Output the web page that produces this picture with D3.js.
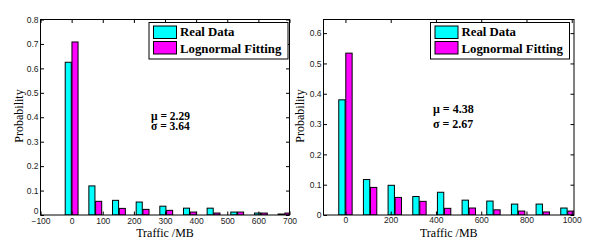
<!DOCTYPE html>
<html>
<head>
<meta charset="utf-8">
<script src="https://cdn.jsdelivr.net/npm/d3@7"></script>
<style>
  body { margin: 0; background: #fff; }
  svg { display: block; }
  .serif { font-family: 'Liberation Serif', 'Times New Roman', 'DejaVu Serif', serif; }
  .tick text { font-family: 'Liberation Sans', Arial, sans-serif; }
</style>
</head>
<body>
<svg id="fig" width="605" height="243"></svg>
<script>
// bin centres (MB)
const leftBins = [0, 76, 152, 228, 304, 380, 456, 532, 608, 684];
const leftReal = [0.625, 0.119, 0.060, 0.053, 0.036, 0.028, 0.028, 0.012, 0.008, 0.004];
const leftFit  = [0.708, 0.056, 0.027, 0.023, 0.019, 0.012, 0.008, 0.012, 0.008, 0.008];

const rightBins = [0, 109, 218, 327, 436, 545, 654, 763, 872, 981];
const rightReal = [0.380, 0.117, 0.098, 0.061, 0.075, 0.049, 0.046, 0.036, 0.036, 0.023];
const rightFit  = [0.534, 0.091, 0.058, 0.045, 0.022, 0.023, 0.017, 0.013, 0.010, 0.013];

const legendLabels = ['Real Data', 'Lognormal Fitting'];
const seriesKeys = ['real', 'fit'];
const colors = { real: '#00ffff', fit: '#ff00ff' };

const leftXTicks = [-100, 0, 100, 200, 300, 400, 500, 600, 700];
const leftYTicks = [0, 0.1, 0.2, 0.3, 0.4, 0.5, 0.6, 0.7, 0.8];
const rightXTicks = [0, 200, 400, 600, 800, 1000];
const rightYTicks = [0, 0.1, 0.2, 0.3, 0.4, 0.5, 0.6];

const svg = d3.select('#fig');

function panel(o) {
  const g = svg.append('g');
  const x = d3.scaleLinear().domain(o.xDomain).range([o.left, o.right]);
  const y = d3.scaleLinear().domain(o.yDomain).range([o.bottom, o.top]);
  const spacing = o.bins[1] - o.bins[0];
  const groupW = spacing * 0.571;
  const sub = d3.scaleBand().domain(seriesKeys).range([-groupW / 2, groupW / 2])
    .paddingInner(0.1).paddingOuter(0.05);

  const clipId = 'clip' + o.id;
  g.append('clipPath').attr('id', clipId)
    .append('rect').attr('x', o.left).attr('y', o.top)
    .attr('width', o.right - o.left).attr('height', o.bottom - o.top);

  const rows = o.bins.map((b, i) => ({ b, real: o.real[i], fit: o.fit[i] }));
  const bars = g.append('g').attr('clip-path', `url(#${clipId})`);
  seriesKeys.forEach(k => {
    bars.selectAll('rect.' + k).data(rows).join('rect')
      .attr('class', k)
      .attr('x', d => x(d.b + sub(k)))
      .attr('width', d => x(d.b + sub(k) + sub.bandwidth()) - x(d.b + sub(k)))
      .attr('y', d => y(d[k]))
      .attr('height', d => y(0) - y(d[k]))
      .attr('fill', colors[k])
      .attr('stroke', '#000').attr('stroke-width', 1);
  });

  // axes, MATLAB style: ticks inside, on all four sides
  const fmtY = d => d === 0 ? '0' : d3.format('.1f')(d);
  const ax = (axis, tr, labels) => {
    const a = g.append('g').attr('transform', tr).call(axis);
    a.select('.domain').remove();
    a.selectAll('line').attr('stroke', '#000');
    a.selectAll('text').attr('font-size', 8.5).attr('fill', '#222');
    if (!labels) a.selectAll('text').remove();
    return a;
  };
  ax(d3.axisBottom(x).tickValues(o.xTicks).tickFormat(d3.format('d')).tickSize(-3.5).tickPadding(o.xPad),
    `translate(0,${o.bottom})`, true);
  ax(d3.axisTop(x).tickValues(o.xTicks).tickSize(-3.5), `translate(0,${o.top})`, false);
  const yl = ax(d3.axisLeft(y).tickValues(o.yTicks).tickFormat(fmtY).tickSize(-3.5).tickPadding(2),
    `translate(${o.left},0)`, true);
  if (o.raiseZero) {
    // the "0" sits just above the "-100" label, as in the original
    yl.selectAll('.tick').filter(d => d === 0).select('text').attr('dy', '-0.15em');
  }
  ax(d3.axisRight(y).tickValues(o.yTicks).tickSize(-3.5), `translate(${o.right},0)`, false);

  g.append('rect').attr('x', o.left).attr('y', o.top)
    .attr('width', o.right - o.left).attr('height', o.bottom - o.top)
    .attr('fill', 'none').attr('stroke', '#000').attr('stroke-width', 1);

  // axis titles
  g.append('text').attr('class', 'serif').attr('x', (o.left + o.right) / 2).attr('y', 236.5)
    .attr('text-anchor', 'middle').attr('font-size', 12)
    .text('Traffic /MB');
  g.append('text').attr('class', 'serif').attr('transform', `translate(${o.ylabX},116) rotate(-90)`)
    .attr('text-anchor', 'middle').attr('font-size', 12)
    .text('Probability');

  // legend
  const lg = g.append('g').attr('transform', `translate(${o.legX},22.5)`);
  lg.append('rect').attr('x', 0).attr('y', 0).attr('width', o.legW).attr('height', 36.5)
    .attr('fill', '#fff').attr('stroke', '#000').attr('stroke-width', 1);
  legendLabels.forEach((t, i) => {
    lg.append('rect').attr('x', 4.5).attr('y', 3.5 + i * 15.5).attr('width', 23).attr('height', 12.5)
      .attr('fill', colors[seriesKeys[i]]).attr('stroke', '#000');
    lg.append('text').attr('class', 'serif').attr('x', 31).attr('y', 13.3 + i * 17.3)
      .attr('font-weight', 'bold').attr('font-size', 12.8)
      .text(t);
  });

  // fit parameters
  o.params.forEach((t, i) => {
    g.append('text').attr('class', 'serif').attr('x', o.parX).attr('y', o.parY + i * o.parDy)
      .attr('font-weight', 'bold').attr('font-size', o.parSize)
      .text(t);
  });
}

panel({
  id: 'L', bins: leftBins, real: leftReal, fit: leftFit,
  xDomain: [-100, 700], yDomain: [0, 0.8],
  left: 40.5, right: 289.5, top: 19.5, bottom: 215,
  xTicks: leftXTicks, yTicks: leftYTicks, xPad: 3, raiseZero: true,
  ylabX: 23, legX: 149, legW: 139,
  params: ['\u03bc = 2.29', '\u03c3 = 3.64'], parX: 151, parY: 119.5, parDy: 10.5, parSize: 11.5
});

panel({
  id: 'R', bins: rightBins, real: rightReal, fit: rightFit,
  xDomain: [-97, 1010], yDomain: [0, 0.645],
  left: 323.5, right: 574, top: 19.5, bottom: 215,
  xTicks: rightXTicks, yTicks: rightYTicks, xPad: 2,
  ylabX: 304, legX: 430.5, legW: 139,
  params: ['\u03bc = 4.38', '\u03c3 = 2.67'], parX: 433, parY: 113, parDy: 15, parSize: 12
});
</script>
</body>
</html>
